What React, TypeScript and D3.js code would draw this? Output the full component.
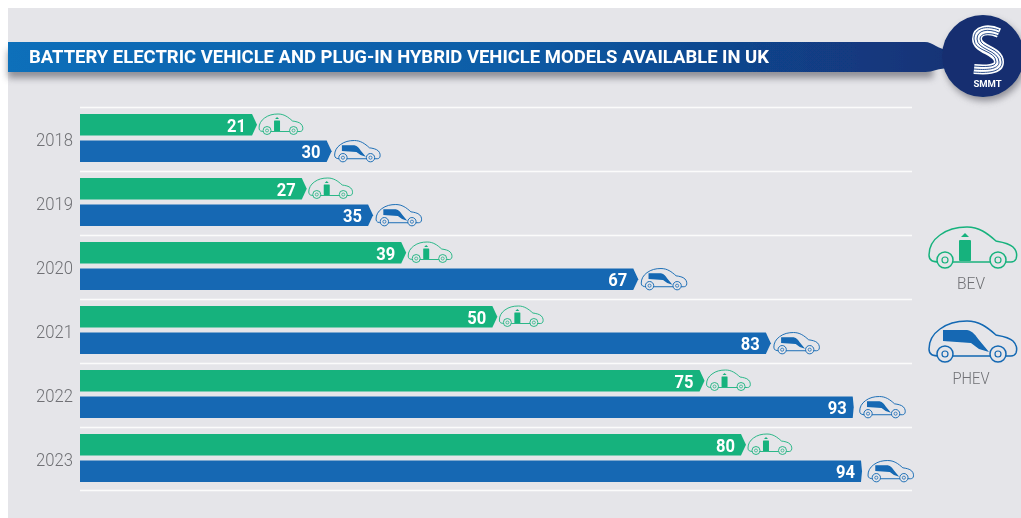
import React from 'react';
import * as d3 from 'd3';

const years = ['2018', '2019', '2020', '2021', '2022', '2023'];
const bevModels = [21, 27, 39, 50, 75, 80];
const phevModels = [30, 35, 67, 83, 93, 94];
const seriesKeys = ['BEV', 'PHEV'];

const GREEN = '#17b27d';
const BLUE = '#1268b3';
const PANEL = '#e5e5e9';
const NAVY = '#12397f';

const width = 1021;
const height = 518;

const carBody =
  'M11 35 C4 35 0 34 0 28 C0 20 4 13 11 8 C19 2 28 0 38 0 C50 0 58 6 67 14 C73 15 80 16 84 20 C88 24 88 29 87 32 C86 34 84 35 82 35 Z';

// car outline with either a battery or a charging plug inside
const Car = ({ x, y, scale, color, kind }) => {
  const sw = scale < 1 ? 1.8 : 1.5;
  return (
    <g transform={`translate(${x},${y}) scale(${scale})`}>
      <path d={carBody} fill="none" stroke={color} strokeWidth={sw} />
      {kind === 'BEV' ? (
        <g fill={color}>
          <rect x={30} y={13} width={12} height={21} rx={1} />
          <path d="M32 10 L36 6 L40 10 Z" />
        </g>
      ) : (
        <path d="M14 9 L38 9 C44 10 47 15 50 19 L60 31 L50 28 L42 22 L14 20 Z" fill={color} />
      )}
      {[16, 69].map(cx => (
        <g key={cx}>
          <circle cx={cx} cy={33} r={8} fill={PANEL} stroke={color} strokeWidth={sw} />
          <circle cx={cx} cy={33} r={3} fill={PANEL} stroke={color} strokeWidth={sw * 0.8} />
        </g>
      ))}
    </g>
  );
};

const App = () => {
  const rows = d3.scaleBand().domain(years).range([107, 491]);
  const series = d3.scaleBand().domain(seriesKeys).range([7, 55]).paddingInner(0.19);
  const x = d3.scaleLinear().domain([0, 94]).range([83, 862]);
  const barH = series.bandwidth();
  const barStart = 80;

  const bars = years.flatMap((year, i) => [
    { year, key: 'BEV', value: bevModels[i], color: GREEN },
    { year, key: 'PHEV', value: phevModels[i], color: BLUE },
  ]);

  const gridLines = [...years.map(y => rows(y)), rows('2023') + rows.bandwidth() - 1];

  return (
    <svg
      width={width}
      height={height}
      style={{ position: 'absolute', left: 0, top: 0, display: 'block', background: '#fff' }}
    >
      <defs>
        <linearGradient id="bannerFill" x1="8" x2="1010" y1="0" y2="0" gradientUnits="userSpaceOnUse">
          <stop offset="0" stopColor="#0f6fba" />
          <stop offset="0.5" stopColor="#0f5ca6" />
          <stop offset="0.85" stopColor={NAVY} />
          <stop offset="1" stopColor="#132f70" />
        </linearGradient>
        <filter id="soft" x="-5%" y="-30%" width="110%" height="170%">
          <feGaussianBlur stdDeviation="3.5" />
        </filter>
        <filter id="slight">
          <feGaussianBlur stdDeviation="0.45" />
        </filter>
      </defs>

      <rect x={8} y={8} width={width - 8} height={height - 8} fill={PANEL} />

      {/* banner shadow */}
      <g fill="#54545e" opacity={0.6} filter="url(#soft)">
        <rect x={8} y={50} width={925} height={28} />
        <circle cx={985} cy={60} r={41} />
      </g>

      <g filter="url(#slight)">
        <path
          d="M8 42 H925 C933 42 938 50 950 50 V68 C938 68 933 72 925 72 H8 Z"
          fill="url(#bannerFill)"
        />
        <circle cx={983} cy={56} r={41} fill="#132f70" />
        <text
          x={29}
          y={62.5}
          fill="#fff"
          fontFamily="Roboto, sans-serif"
          fontWeight={700}
          fontSize={18}
          textLength={740}
          lengthAdjust="spacingAndGlyphs"
        >
          BATTERY ELECTRIC VEHICLE AND PLUG-IN HYBRID VEHICLE MODELS AVAILABLE IN UK
        </text>

        {/* logo */}
        <g fill="none">
          <path d="M999 33 C988 28 977 30 977 39 C977 50 999 50 999 62 C999 70 985 70 974 69" stroke="#fff" strokeWidth={10} />
          <path d="M999 30 C986 25 974 28 974 39 C974 52 996 50 996 62 C996 67 985 67 974 66" stroke={NAVY} strokeWidth={0.9} />
          <path d="M999 33 C988 28 977 30 977 39 C977 50 999 50 999 62 C999 70 985 70 974 69" stroke={NAVY} strokeWidth={0.9} />
          <path d="M999 36 C990 32 980 33 980 39 C980 48 1002 48 1002 62 C1002 73 985 73 974 72" stroke={NAVY} strokeWidth={0.9} />
        </g>
        <text x={987.5} y={87} textAnchor="middle" fill="#fff" fontFamily="Roboto, sans-serif" fontWeight={700} fontSize={9.5}>
          SMMT
        </text>

        {gridLines.map(y => (
          <line key={y} x1={80} x2={912} y1={y + 0.5} y2={y + 0.5} stroke="#fbfbfb" strokeWidth={1.5} />
        ))}

        {years.map(year => (
          <text
            key={year}
            x={73}
            y={rows(year) + rows.bandwidth() / 2 + 6.5}
            textAnchor="end"
            fill="#6f7074"
            fontFamily="Roboto, sans-serif"
            fontWeight={300}
            fontSize={19}
            textLength={37}
            lengthAdjust="spacingAndGlyphs"
          >
            {year}
          </text>
        ))}

        {bars.map(d => {
          const top = rows(d.year) + series(d.key);
          const end = x(d.value);
          // the two longest bars have almost no arrow tip in the source
          const flat = d.value >= 93;
          const tip = flat ? 1 : 5;
          const outline = d3.path();
          outline.moveTo(barStart, top);
          outline.lineTo(end - tip, top);
          outline.lineTo(end, top + barH / 2);
          outline.lineTo(end - tip, top + barH);
          outline.lineTo(barStart, top + barH);
          outline.closePath();
          const isPhev = d.key === 'PHEV';
          return (
            <g key={d.year + d.key}>
              <path d={outline.toString()} fill={d.color} />
              <text
                x={end - (flat ? 7 : 11)}
                y={top + barH / 2 + 7}
                textAnchor="end"
                fill="#fff"
                fontFamily="Roboto, sans-serif"
                fontWeight={700}
                fontSize={19}
                textLength={19}
                lengthAdjust="spacingAndGlyphs"
              >
                {d.value}
              </text>
              <Car
                x={end + (flat ? 6 : isPhev ? 3 : 2)}
                y={top}
                scale={isPhev ? 0.52 : 0.5}
                color={d.color}
                kind={d.key}
              />
            </g>
          );
        })}

        {/* legend */}
        <Car x={929} y={227} scale={1} color={GREEN} kind="BEV" />
        <text x={971} y={289} textAnchor="middle" fill="#6f7074" fontFamily="Roboto, sans-serif" fontWeight={300} fontSize={16.5} textLength={28} lengthAdjust="spacingAndGlyphs">
          BEV
        </text>
        <Car x={929} y={321} scale={1} color={BLUE} kind="PHEV" />
        <text x={971} y={384} textAnchor="middle" fill="#6f7074" fontFamily="Roboto, sans-serif" fontWeight={300} fontSize={16.5} textLength={37} lengthAdjust="spacingAndGlyphs">
          PHEV
        </text>
      </g>
    </svg>
  );
};

export default App;
